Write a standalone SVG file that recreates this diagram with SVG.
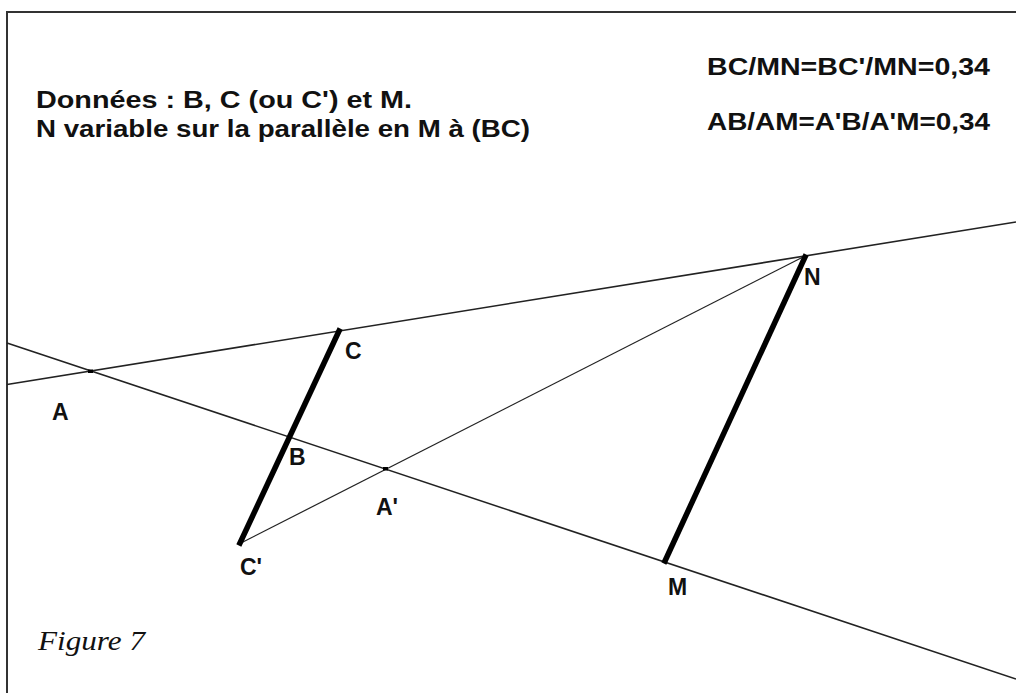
<svg xmlns="http://www.w3.org/2000/svg" width="1016" height="693" viewBox="0 0 1016 693">
<style>
.t{font-family:"Liberation Sans",Arial,sans-serif;font-weight:bold;font-size:23px;fill:#111}
.thin{stroke:#222;stroke-width:1.6;fill:none}
.thin2{stroke:#222;stroke-width:1.2;fill:none}
.thick{stroke:#000;stroke-width:5.5;stroke-linecap:square;fill:none}
.fig{font-family:"Liberation Serif","Times New Roman",serif;font-style:italic;font-size:27px;fill:#111}
</style>
<rect width="1016" height="693" fill="#fff"/>
<polyline points="7,693 7,12 1016,12" fill="none" stroke="#333" stroke-width="2"/>
<g id="connectors">
<line class="thin" x1="7" y1="384.5" x2="1016" y2="222"/>
<line class="thin" x1="7" y1="343" x2="1016" y2="679"/>
<line class="thin2" x1="239" y1="544" x2="805" y2="256"/>
<line class="thick" x1="339" y1="331" x2="240" y2="543"/>
<line class="thick" x1="665" y1="561" x2="805" y2="257"/>
</g>
<g id="points">
<rect x="88" y="369.5" width="5" height="3.5" fill="#000"/>
<rect x="383" y="467" width="5" height="3.5" fill="#000"/>
</g>
<g id="labels">
<text class="t" x="52" y="420">A</text>
<text class="t" x="345" y="359">C</text>
<text class="t" x="289" y="465">B</text>
<text class="t" x="376" y="515">A'</text>
<text class="t" x="240" y="575">C'</text>
<text class="t" x="804" y="285">N</text>
<text class="t" x="668" y="595">M</text>
</g>
<g id="texts">
<text class="t" x="36" y="108" textLength="376" lengthAdjust="spacingAndGlyphs">Données : B, C (ou C') et M.</text>
<text class="t" x="36" y="137" textLength="494" lengthAdjust="spacingAndGlyphs">N variable sur la parallèle en M à (BC)</text>
<text class="t" x="707" y="75" textLength="283" lengthAdjust="spacingAndGlyphs">BC/MN=BC'/MN=0,34</text>
<text class="t" x="707" y="130" textLength="283" lengthAdjust="spacingAndGlyphs">AB/AM=A'B/A'M=0,34</text>
<text class="fig" x="38" y="650" textLength="107" lengthAdjust="spacingAndGlyphs">Figure 7</text>
</g>
</svg>
